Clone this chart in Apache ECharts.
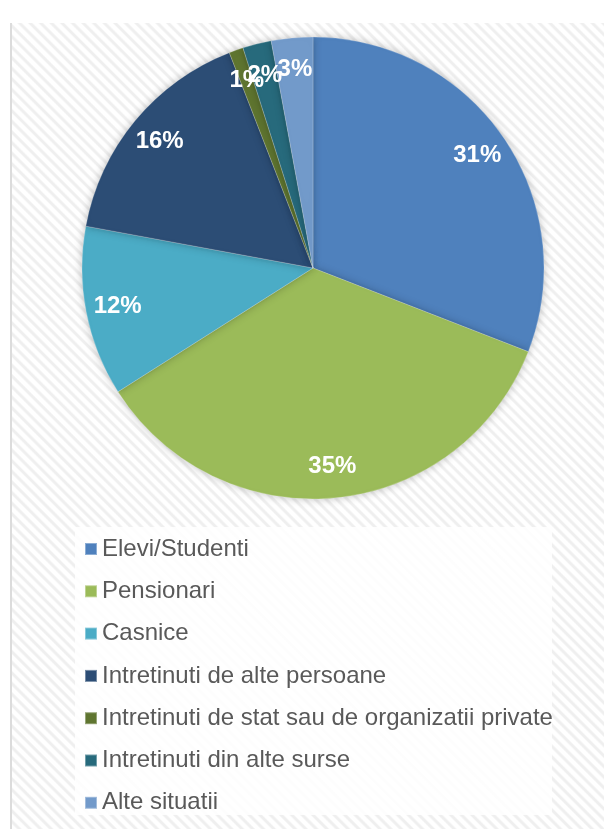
<!DOCTYPE html>
<html>
<head>
<meta charset="utf-8">
<script src="https://cdn.jsdelivr.net/npm/echarts@6/dist/echarts.min.js"></script>
<style>
  html, body { margin: 0; padding: 0; background: #fff; }
  #wrap { position: relative; width: 604px; height: 829px; }
  #hatch {
    position: absolute; left: 10px; top: 23px; right: 0; bottom: 0;
    border-left: 2px solid #dcdcdc;
    background: repeating-linear-gradient(45deg, #ffffff 0px, #ffffff 3px, #efefef 4.5px, #efefef 6px, #ffffff 7.5px);
  }
  #chart { position: absolute; left: 0; top: 0; width: 604px; height: 829px; }
</style>
</head>
<body>
<div id="wrap">
  <div id="hatch"></div>
  <div id="chart"></div>
</div>
<script>
// categorii si valori (procente)
var categories = ['Elevi/Studenti', 'Pensionari', 'Casnice', 'Intretinuti de alte persoane',
  'Intretinuti de stat sau de organizatii private', 'Intretinuti din alte surse', 'Alte situatii'];
var values = [30.9, 35.1, 11.9, 16.2, 1.0, 2.0, 2.9];
var colors = ['#4f81bd', '#9bbb59', '#4bacc6', '#2c4d75', '#5f7530', '#276a7c', '#729aca'];

var font = "'Liberation Sans', Arial, sans-serif";

var pieData = categories.map(function (name, i) {
  return { name: name, value: values[i] };
});

var chart = echarts.init(document.getElementById('chart'), null, { renderer: 'canvas' });
chart.setOption({
  backgroundColor: 'transparent',
  color: colors,
  animation: false,
  graphic: [{
    type: 'rect',
    z: -1,
    shape: { x: 75, y: 527, width: 477, height: 288 },
    style: { fill: 'rgba(255,255,255,0.85)' }
  }],
  legend: {
    orient: 'vertical',
    left: 84,
    top: 537,
    padding: 0,
    itemWidth: 12,
    itemHeight: 12,
    itemGap: 18.3,
    icon: 'rect',
    data: categories,
    textStyle: { fontFamily: font, fontSize: 24, lineHeight: 24, color: '#595959' }
  },
  series: [
    {
      // felii
      type: 'pie',
      center: [313, 268],
      radius: 231,
      startAngle: 90,
      clockwise: true,
      silent: true,
      label: { show: false },
      labelLine: { show: false },
      itemStyle: {
        borderColor: 'rgba(255,255,255,0.35)',
        borderWidth: 0.6,
        shadowBlur: 8,
        shadowColor: 'rgba(0,0,0,0.25)'
      },
      data: pieData
    },
    {
      // etichete procentuale
      type: 'pie',
      center: [313, 268],
      radius: [163, 229],
      startAngle: 90,
      clockwise: true,
      silent: true,
      avoidLabelOverlap: false,
      labelLayout: { hideOverlap: false },
      itemStyle: { color: 'transparent' },
      labelLine: { show: false },
      label: {
        show: true,
        position: 'inside',
        fontFamily: font,
        fontSize: 24,
        fontWeight: 'bold',
        color: '#ffffff',
        formatter: function (p) { return Math.round(p.percent) + '%'; }
      },
      data: pieData
    }
  ]
});
</script>
</body>
</html>
